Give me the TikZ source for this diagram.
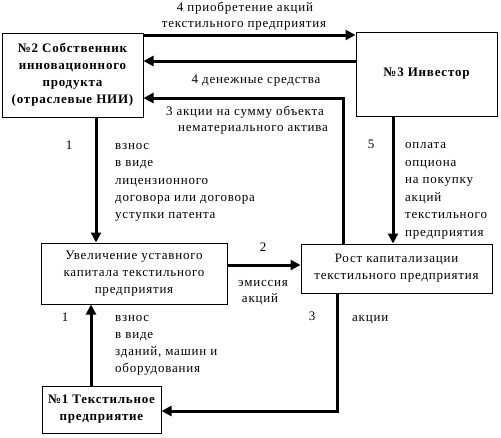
\documentclass[tikz,border=0pt]{standalone}
\usepackage{fontspec}
\setmainfont{Liberation Serif}[LetterSpace=6]
\usetikzlibrary{arrows.meta}
\begin{document}
\begin{tikzpicture}[x=1pt,y=-1pt,
  box/.style={draw, line width=1pt, inner sep=0pt, align=center, font=\fontsize{13}{17}\selectfont},
  bbox/.style={box, font=\fontsize{13}{17}\selectfont\bfseries},
  arr/.style={line width=3pt, -{Triangle[length=10pt,width=10pt]}},
  lbl/.style={inner sep=0pt, text height=9pt, text depth=3pt, font=\fontsize{13}{17}\selectfont}]
\useasboundingbox (0,0) rectangle (501,437);
% boxes
\node[bbox, minimum width=141pt, minimum height=84pt] (n2) at (72.5,75) {№2 Собственник\\инновационного\\продукта\\(отраслевые НИИ)};
\node[bbox, minimum width=141pt, minimum height=84pt] (n3) at (426.5,74) {№3 Инвестор};
\node[box, minimum width=186pt, minimum height=61pt] (uv) at (134,273.5) {Увеличение уставного\\капитала текстильного\\предприятия};
\node[box, minimum width=191pt, minimum height=49pt] (rost) at (396.5,268.5) {Рост капитализации\\текстильного предприятия};
\node[bbox, minimum width=119pt, minimum height=47pt] (n1) at (101.5,409.5) {№1 Текстильное\\предприятие};
% corner coordinates
\coordinate (c3a) at (343,98);
\coordinate (c3b) at (337,411);
% connectors
\draw[arr] (n2.east |- 0,35) -- (n3.west |- 0,35);
\draw[arr] (n3.west |- 0,61) -- (n2.east |- 0,61);
\draw[arr] (rost.north -| c3a) -- (c3a) -- (n2.east |- c3a);
\draw[arr] (n3.south -| 393,0) -- (rost.north -| 393,0);
\draw[arr] (n2.south -| 96,0) -- (uv.north -| 96,0);
\draw[arr] (uv.east |- 0,265) -- (rost.west |- 0,265);
\draw[arr] (n1.north -| 91,0) -- (uv.south -| 91,0);
\draw[arr] (rost.south -| c3b) -- (c3b) -- (n1.east |- c3b);
% labels
\node[lbl] (t4a) at (245,8) {4 приобретение акций};
\node[lbl] (t4b) at (244,24) {текстильного предприятия};
\node[lbl] (t4c) at (256,80) {4 денежные средства};
\node[lbl] (t3a) at (245,112) {3 акции на сумму объекта};
\node[lbl] (t3b) at (253,128) {нематериального актива};
\node[lbl] (k1a) at (69,146) {1};
\node[lbl] (k5) at (371,145) {5};
\node[lbl] (k2) at (263,248) {2};
\node[lbl] (k3) at (312,317) {3};
\node[lbl] (k1b) at (65,318) {1};
\node[lbl] (em1) at (263,283) {эмиссия};
\node[lbl] (em2) at (260,299) {акций};
\node[lbl, anchor=west] (ak) at (352,318) {акции};
\foreach \t/\yy [count=\i] in {{взнос}/146, {в виде}/163, {лицензионного}/181, {договора или договора}/198, {уступки патента}/215}
  \node[lbl, anchor=west] (pa-\i) at (115,\yy) {\t};
\foreach \t/\yy [count=\i] in {{оплата}/145, {опциона}/163, {на покупку}/180, {акций}/198, {текстильного}/215, {предприятия}/233}
  \node[lbl, anchor=west] (pb-\i) at (405,\yy) {\t};
\foreach \t/\yy [count=\i] in {{взнос}/318, {в виде}/335, {зданий, машин и}/352, {оборудования}/369}
  \node[lbl, anchor=west] (pc-\i) at (115,\yy) {\t};
\end{tikzpicture}
\end{document}
